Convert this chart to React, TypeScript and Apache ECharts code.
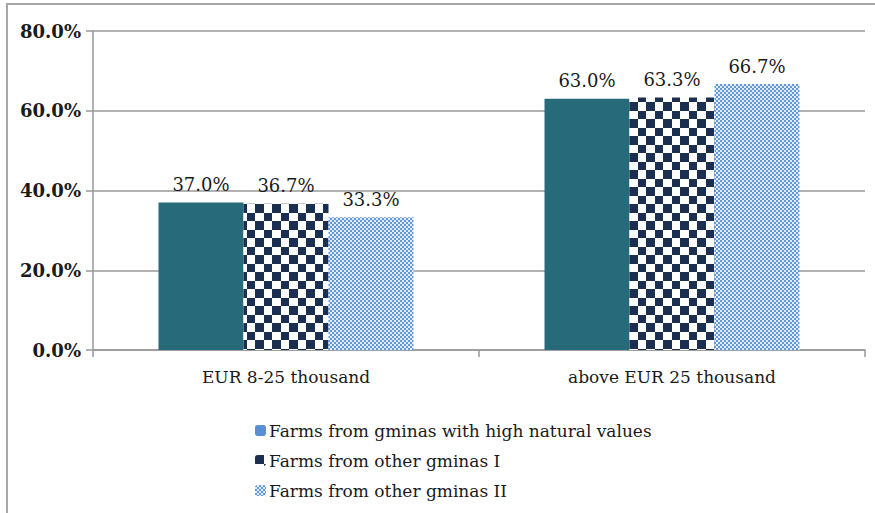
import React, { useEffect, useRef } from "react";
import * as echarts from "echarts";

const categories = ["EUR 8-25 thousand", "above EUR 25 thousand"];
const seriesNames = [
  "Farms from gminas with high natural values",
  "Farms from other gminas I",
  "Farms from other gminas II",
];
const highNatural = [0.37, 0.63];
const otherI = [0.367, 0.633];
const otherII = [0.333, 0.667];
const yTicks = { min: 0, max: 0.8, interval: 0.2 };

const FONT = "DejaVu Serif";

function makeChecker() {
  const c = document.createElement("canvas");
  c.width = 17;
  c.height = 17;
  const ctx = c.getContext("2d")!;
  ctx.fillStyle = "#ffffff";
  ctx.fillRect(0, 0, 17, 17);
  ctx.fillStyle = "#1b3051";
  ctx.fillRect(0, 0, 9, 9);
  ctx.fillRect(9, 9, 8, 8);
  return c;
}

function makeFine() {
  const c = document.createElement("canvas");
  c.width = 4;
  c.height = 4;
  const ctx = c.getContext("2d")!;
  ctx.fillStyle = "#e3ecf9";
  ctx.fillRect(0, 0, 4, 4);
  ctx.fillStyle = "#6197db";
  ctx.fillRect(0, 0, 2, 2);
  ctx.fillRect(2, 2, 2, 2);
  return c;
}

export default function App() {
  const ref = useRef<HTMLDivElement>(null);
  useEffect(() => {
    if (!ref.current) return;
    const chart = echarts.init(ref.current, undefined, { renderer: "svg" });
    const checker = makeChecker();
    const fine = makeFine();
    const checkerPattern: any = { image: checker, repeat: "repeat", imageWidth: 17, imageHeight: 17 };
    const finePattern: any = { image: fine, repeat: "repeat", imageWidth: 4, imageHeight: 4 };
    const label = {
      show: true,
      position: "top",
      distance: 9,
      fontFamily: FONT,
      fontSize: 18,
      color: "#1a1a1a",
      formatter: (p: any) => (p.value * 100).toFixed(1) + "%",
    };
    chart.setOption({
      animation: false,
      backgroundColor: "#ffffff",
      textStyle: { fontFamily: FONT },
      graphic: [
        {
          type: "rect",
          shape: { x: 7, y: 4, width: 900, height: 560 },
          style: { fill: "none", stroke: "#a6a6a6", lineWidth: 2 },
          silent: true,
        },
      ],
      grid: { left: 93, top: 31, right: 10, bottom: 163, containLabel: false },
      legend: {
        orient: "vertical",
        left: 250,
        top: 416,
        itemWidth: 11,
        itemHeight: 11,
        itemGap: 11,
        textStyle: { fontFamily: FONT, fontSize: 17, color: "#1a1a1a", lineHeight: 19, padding: [0, 0, 0, -2] },
        data: [
          { name: seriesNames[0], itemStyle: { color: "#5b8fd3" } },
          { name: seriesNames[1] },
          { name: seriesNames[2] },
        ],
      },
      xAxis: {
        type: "category",
        data: categories,
        axisLine: { lineStyle: { color: "#999999", width: 1.5 } },
        axisTick: { show: true, length: 7, lineStyle: { color: "#999999", width: 1.5 } },
        axisLabel: { fontFamily: FONT, fontSize: 17, color: "#1a1a1a", margin: 18 },
      },
      yAxis: {
        type: "value",
        min: yTicks.min,
        max: yTicks.max,
        interval: yTicks.interval,
        axisLine: { show: true, lineStyle: { color: "#999999", width: 1.5 } },
        axisTick: { show: true, length: 7, lineStyle: { color: "#999999", width: 1.5 } },
        splitLine: { lineStyle: { color: "#999999", width: 1.5 } },
        axisLabel: {
          fontFamily: FONT,
          fontSize: 18,
          fontWeight: "bold",
          color: "#1a1a1a",
          margin: 12,
          formatter: (v: number) => (v * 100).toFixed(1) + "%",
        },
      },
      series: [
        {
          name: seriesNames[0],
          type: "bar",
          data: highNatural,
          barWidth: 85,
          barGap: "0%",
          itemStyle: { color: "#276b7b" },
          label,
        },
        {
          name: seriesNames[1],
          type: "bar",
          data: otherI,
          barWidth: 85,
          barGap: "0%",
          itemStyle: { color: checkerPattern },
          label,
        },
        {
          name: seriesNames[2],
          type: "bar",
          data: otherII,
          barWidth: 85,
          barGap: "0%",
          itemStyle: { color: finePattern },
          label,
        },
      ],
    });
    return () => chart.dispose();
  }, []);
  return (
    <div
      ref={ref}
      style={{ position: "fixed", left: 0, top: 0, width: 875, height: 513 }}
    />
  );
}
